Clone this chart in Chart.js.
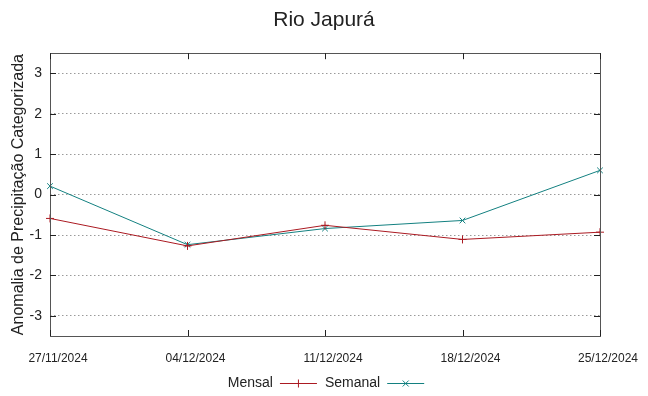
<!DOCTYPE html>
<html>
<head>
<meta charset="utf-8">
<script src="https://cdn.jsdelivr.net/npm/chart.js@4/dist/chart.umd.min.js"></script>
<style>
  html, body { margin: 0; padding: 0; background: #fff; }
</style>
</head>
<body>
<canvas id="chart" width="648" height="396"></canvas>
<script>
// data
const dates = ['27/11/2024', '04/12/2024', '11/12/2024', '18/12/2024', '25/12/2024'];
const mensal = [-0.59, -1.27, -0.76, -1.11, -0.93];
const semanal = [0.21, -1.24, -0.84, -0.64, 0.60];
const yTicks = [-3, -2, -1, 0, 1, 2, 3];

const RED = '#ab1a22';
const TEAL = '#138080';
const FONT = "'Liberation Sans', Arial, sans-serif";

// frame, inward ticks (gnuplot style) and legend below
const gnuFrame = {
    id: 'gnuFrame',
    afterDraw(chart) {
        const ctx = chart.ctx;
        const a = chart.chartArea;
        const xs = chart.scales.x;
        const ys = chart.scales.y;
        const tl = 6;
        ctx.save();
        ctx.strokeStyle = '#555';
        ctx.lineWidth = 1;
        ctx.strokeRect(Math.round(a.left) + 0.5, Math.round(a.top) + 0.5,
            Math.round(a.right - a.left), Math.round(a.bottom - a.top));

        ctx.strokeStyle = '#222';
        ctx.beginPath();
        xs.ticks.forEach((t, i) => {
            const px = Math.round(xs.getPixelForTick(i)) + 0.5;
            ctx.moveTo(px, a.bottom); ctx.lineTo(px, a.bottom - tl);
            ctx.moveTo(px, a.top); ctx.lineTo(px, a.top + tl);
        });
        ys.ticks.forEach(t => {
            const py = Math.round(ys.getPixelForValue(t.value)) + 0.5;
            ctx.moveTo(a.left, py); ctx.lineTo(a.left + tl, py);
            ctx.moveTo(a.right, py); ctx.lineTo(a.right - tl, py);
        });
        ctx.stroke();

        // legend: text then sample line with marker
        ctx.font = '14px ' + FONT;
        ctx.textBaseline = 'middle';
        const items = chart.data.datasets;
        const lineLen = 37;
        const widths = items.map(d => ctx.measureText(d.label).width);
        const total = widths.reduce((s, w) => s + w + 7 + lineLen, 0) + 8 * (items.length - 1);
        let x = chart.width / 2 + 2 - total / 2;
        const y = 383.5;
        items.forEach((d, i) => {
            ctx.fillStyle = '#222';
            ctx.textAlign = 'left';
            ctx.fillText(d.label, x, y);
            x += widths[i] + 7;
            ctx.strokeStyle = d.borderColor;
            ctx.beginPath();
            ctx.moveTo(x, y); ctx.lineTo(x + lineLen, y);
            const cx = x + lineLen / 2;
            if (d.pointStyle === 'cross') {
                ctx.moveTo(cx, y - 4); ctx.lineTo(cx, y + 4);
            } else {
                ctx.moveTo(cx - 3, y - 3); ctx.lineTo(cx + 3, y + 3);
                ctx.moveTo(cx - 3, y + 3); ctx.lineTo(cx + 3, y - 3);
            }
            ctx.stroke();
            x += lineLen + 8;
        });
        ctx.restore();
    }
};

new Chart(document.getElementById('chart'), {
    type: 'line',
    data: {
        labels: dates,
        datasets: [
            {
                label: 'Mensal',
                data: mensal,
                borderColor: RED,
                backgroundColor: RED,
                borderWidth: 1,
                pointStyle: 'cross',
                pointRadius: 4,
                pointBorderWidth: 1,
                tension: 0,
                clip: false
            },
            {
                label: 'Semanal',
                data: semanal,
                borderColor: TEAL,
                backgroundColor: TEAL,
                borderWidth: 1,
                pointStyle: 'crossRot',
                pointRadius: 4,
                pointBorderWidth: 1,
                tension: 0,
                clip: false
            }
        ]
    },
    options: {
        responsive: false,
        animation: false,
        layout: { padding: 0 },
        plugins: {
            legend: { display: false },
            tooltip: { enabled: false },
            title: {
                display: true,
                text: 'Rio Japurá',
                color: '#222',
                font: { family: FONT, size: 21, weight: 'normal' },
                padding: { top: 8, bottom: 20 }
            }
        },
        scales: {
            x: {
                offset: false,
                grid: { display: false },
                border: { display: false },
                ticks: {
                    color: '#222',
                    font: { family: FONT, size: 12 },
                    padding: 7,
                    labelOffset: 8,
                    maxRotation: 0,
                    autoSkip: false
                },
                afterFit(scale) { scale.height = 60; }
            },
            y: {
                min: -3.5,
                max: 3.5,
                afterBuildTicks(scale) { scale.ticks = yTicks.map(v => ({ value: v })); },
                grid: { color: '#9a9a9a', lineWidth: 1, drawTicks: false },
                border: { display: false, dash: [1.5, 2.5] },
                ticks: {
                    color: '#222',
                    font: { family: FONT, size: 14 },
                    padding: 8
                },
                title: {
                    display: true,
                    text: 'Anomalia de Precipitação Categorizada',
                    color: '#222',
                    font: { family: FONT, size: 16 },
                    padding: { top: 9, bottom: 0 }
                },
                afterFit(scale) { scale.width = 50; }
            },
            // empty right margin so the title centres on the whole canvas
            yRight: {
                position: 'right',
                display: true,
                min: -3.5,
                max: 3.5,
                grid: { display: false },
                border: { display: false },
                ticks: { display: false },
                afterFit(scale) { scale.width = 48; }
            }
        }
    },
    plugins: [gnuFrame]
});
</script>
</body>
</html>
